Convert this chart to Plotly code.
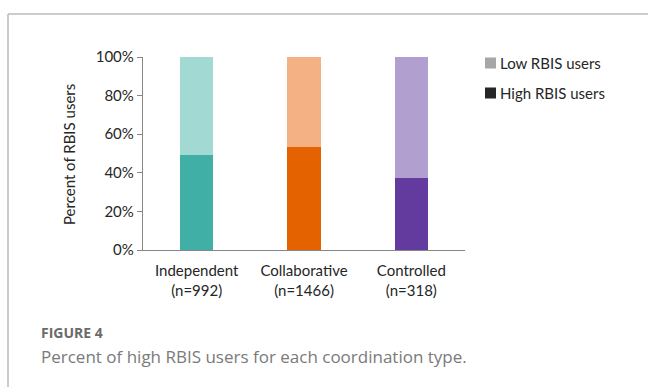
import plotly.graph_objects as go

# Coordination types and their sample sizes
categories = ["Independent", "Collaborative", "Controlled"]
sample_sizes = [992, 1466, 318]

# Share of high RBIS users per type (percent); low users fill the rest
high_pct = [49, 53.5, 37.3]
low_pct = [100 - v for v in high_pct]

dark_colors = ["#40B0A6", "#E46300", "#633A9E"]
light_colors = ["#A2DAD3", "#F4B183", "#B1A0CF"]

legend_names = ["Low RBIS users", "High RBIS users"]
legend_colors = ["#A6A6A6", "#262626"]

tick_labels = [f"{c}<br>(n={n})" for c, n in zip(categories, sample_sizes)]

W, H = 648, 387
L, R, T, B = 143, 465, 57, 250  # plot area in pixels


def px(x):
    return (x - L) / (R - L)


def py(y):
    return (B - y) / (B - T)


fig = go.Figure()
fig.add_trace(go.Bar(x=tick_labels, y=high_pct, marker=dict(color=dark_colors, line_width=0),
                     width=0.31, name=legend_names[1], hoverinfo="skip"))
fig.add_trace(go.Bar(x=tick_labels, y=low_pct, marker=dict(color=light_colors, line_width=0),
                     width=0.31, name=legend_names[0], hoverinfo="skip"))

chart_font = "Lato, 'Open Sans', sans-serif"

fig.update_layout(
    width=W, height=H,
    barmode="stack",
    showlegend=False,
    paper_bgcolor="white", plot_bgcolor="white",
    margin=dict(l=L, r=W - R, t=T, b=H - B),
    font=dict(family=chart_font, size=15, color="#262626"),
    xaxis=dict(showline=True, linecolor="#868686", linewidth=1.3, ticks="",
               showgrid=False, tickfont=dict(size=15), ticklabelstandoff=7),
    yaxis=dict(range=[0, 100], tickvals=[0, 20, 40, 60, 80, 100],
               ticktext=["0%", "20%", "40%", "60%", "80%", "100%"],
               showline=True, linecolor="#868686", linewidth=1.3,
               ticks="outside", ticklen=5, tickcolor="#868686",
               showgrid=False, zeroline=False, tickfont=dict(size=15)),
)

fig.add_annotation(text="Percent of RBIS users", textangle=-90, x=px(69), y=py(155),
                   xref="paper", yref="paper", xanchor="center", yanchor="middle",
                   showarrow=False, font=dict(size=15, color="#262626"))

# Legend: grey swatches with labels
for i, (name, col) in enumerate(zip(legend_names, legend_colors)):
    yc = 63 + 30 * i
    fig.add_shape(type="rect", xref="paper", yref="paper",
                  x0=px(485), x1=px(496), y0=py(yc - 5.5), y1=py(yc + 5.5),
                  fillcolor=col, line_width=0)
    fig.add_annotation(text=name, x=px(498), y=py(yc), xref="paper", yref="paper",
                       xanchor="left", yanchor="middle", showarrow=False,
                       font=dict(size=15, color="#262626"))

# Figure frame
fig.add_shape(type="line", xref="paper", yref="paper", x0=px(8), x1=px(660),
              y0=py(14), y1=py(14), line=dict(color="#BBBBBB", width=1.5))
fig.add_shape(type="line", xref="paper", yref="paper", x0=px(8), x1=px(8),
              y0=py(14), y1=py(400), line=dict(color="#BBBBBB", width=1.5))

# Caption
fig.add_annotation(text="<b>FIGURE 4</b>", x=px(39), y=py(332), xref="paper", yref="paper",
                   xanchor="left", yanchor="middle", showarrow=False,
                   font=dict(family="'Open Sans', sans-serif", size=14, color="#6B6B6B"))
fig.add_annotation(text="Percent of high RBIS users for each coordination type.",
                   x=px(39), y=py(356), xref="paper", yref="paper",
                   xanchor="left", yanchor="middle", showarrow=False,
                   font=dict(family="'Open Sans', sans-serif", size=17, color="#7A7A7A"))

fig.write_html("out.html")
